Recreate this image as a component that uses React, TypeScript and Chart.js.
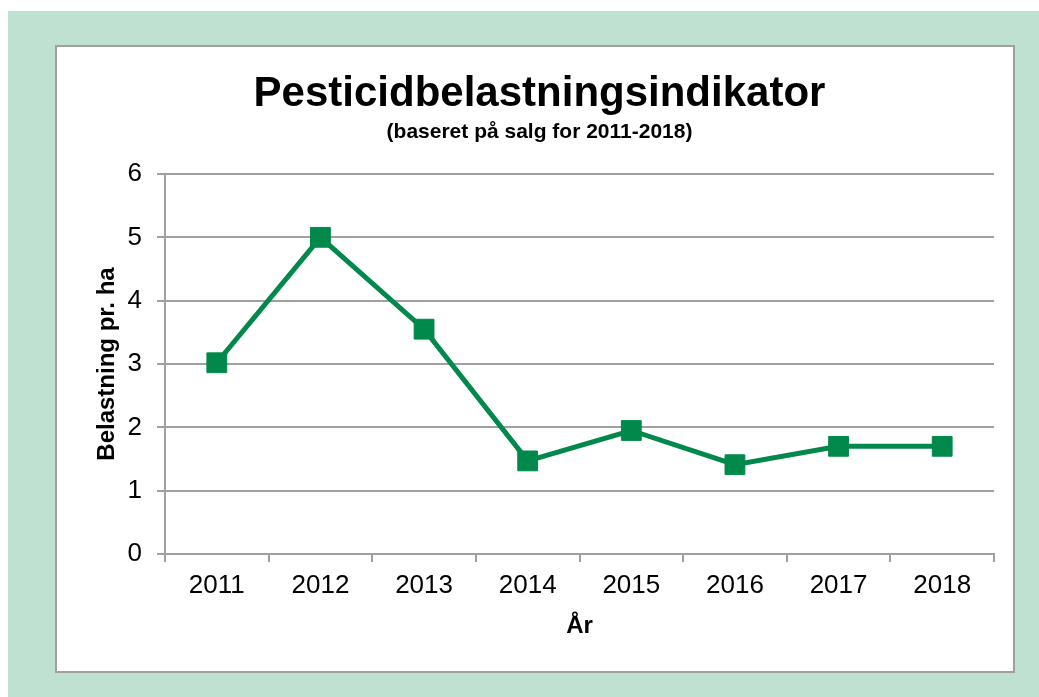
import React, { useEffect, useRef } from "react";
import { Chart, registerables } from "chart.js";

Chart.register(...registerables);

const categories = ["2011", "2012", "2013", "2014", "2015", "2016", "2017", "2018"];
const values = [3.02, 5.0, 3.55, 1.47, 1.95, 1.41, 1.7, 1.7];
const yTicks = [0, 1, 2, 3, 4, 5, 6];
const titleText = "Pesticidbelastningsindikator";
const subtitleText = "(baseret på salg for 2011-2018)";
const yTitle = "Belastning pr. ha";
const xTitle = "År";

const GREEN = "#00894A";
const GRID = "#a0a0a0";
const FONT = "'Liberation Sans', Arial, sans-serif";

export default function App() {
  const ref = useRef<HTMLCanvasElement | null>(null);

  useEffect(() => {
    if (!ref.current) return;
    Chart.defaults.font.family = FONT;
    const chart = new Chart(ref.current, {
      type: "line",
      data: {
        labels: categories,
        datasets: [
          {
            data: values,
            borderColor: GREEN,
            backgroundColor: GREEN,
            borderWidth: 5,
            pointStyle: "rect",
            pointRadius: 14,
            pointBorderWidth: 1,
            pointBackgroundColor: GREEN,
            pointBorderColor: GREEN,
            tension: 0,
          },
        ],
      },
      options: {
        responsive: false,
        animation: false,
        layout: { padding: { left: 28, right: 19, top: 0, bottom: 0 } },
        plugins: {
          legend: { display: false },
          tooltip: { enabled: false },
          title: {
            display: true,
            text: titleText,
            color: "#000",
            font: { size: 42, weight: "bold", family: FONT },
            padding: { top: 22, bottom: 0 },
          },
          subtitle: {
            display: true,
            text: subtitleText,
            color: "#000",
            font: { size: 21, weight: "bold", family: FONT },
            padding: { top: 0, bottom: 29.4 },
          },
        },
        scales: {
          x: {
            type: "category",
            offset: true,
            afterFit: (s: any) => {
              s.height = 117;
            },
            grid: {
              offset: true,
              drawOnChartArea: false,
              drawTicks: true,
              tickLength: 8,
              color: GRID,
              lineWidth: 2,
            },
            border: { display: true, color: GRID, width: 2 },
            ticks: {
              color: "#000",
              font: { size: 26, family: FONT },
              padding: 8,
              maxRotation: 0,
            },
            title: {
              display: true,
              text: xTitle,
              color: "#000",
              font: { size: 24, weight: "bold", family: FONT },
              padding: { top: 0, bottom: 30 },
            },
          },
          y: {
            min: 0,
            max: 6,
            afterFit: (s: any) => {
              s.width = 80;
            },
            afterBuildTicks: (s: any) => {
              s.ticks = yTicks.map((v) => ({ value: v }));
            },
            grid: {
              color: GRID,
              lineWidth: 2,
              tickLength: 8,
              drawTicks: true,
            },
            border: { display: true, color: GRID, width: 2 },
            ticks: {
              color: "#000",
              font: { size: 26, family: FONT },
              padding: 15,
            },
            title: {
              display: true,
              text: yTitle,
              color: "#000",
              font: { size: 24, weight: "bold", family: FONT },
              padding: { top: 8, bottom: 0 },
            },
          },
        },
      },
    });
    return () => chart.destroy();
  }, []);

  return (
    <div
      style={{
        position: "fixed",
        left: 8,
        top: 11,
        width: 1031,
        height: 686,
        background: "#bfe1d2",
      }}
    >
      <div
        style={{
          position: "absolute",
          left: 47,
          top: 34,
          width: 960,
          height: 628,
          boxSizing: "border-box",
          border: "2px solid #a0a0a0",
          background: "#fff",
        }}
      >
        <canvas ref={ref} width={956} height={624} style={{ display: "block" }} />
      </div>
    </div>
  );
}
